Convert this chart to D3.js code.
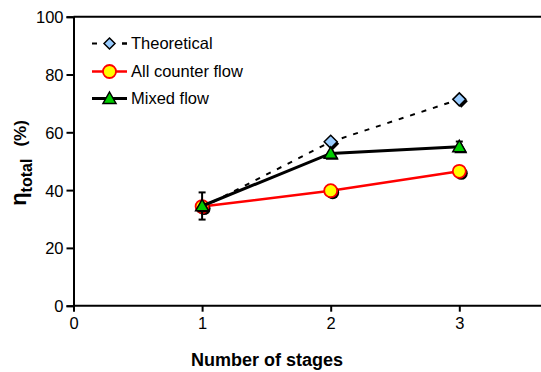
<!DOCTYPE html>
<html>
<head>
<meta charset="utf-8">
<script src="https://cdn.jsdelivr.net/npm/d3@7"></script>
<style>
  body { margin: 0; background: #fff; }
  svg { display: block; font-family: "Liberation Sans", Arial, sans-serif; }
</style>
</head>
<body>
<svg id="chart" width="541" height="372"></svg>
<script>
// --- data ---
const stages = [1, 2, 3];
const theoretical = [34.0, 56.7, 71.4];
const counterFlow = [34.3, 39.8, 46.5];
const mixedFlow = [34.5, 52.7, 55.0];
const mixedErr = [4.7, 0, 1.8];
const xTicks = [0, 1, 2, 3];
const yTicks = [0, 20, 40, 60, 80, 100];

const svg = d3.select("#chart");
const plotLeft = 73.5, plotTop = 16.7, plotBottom = 305.7;

const x = d3.scaleLinear([0, 3], [plotLeft, 459.3]);
const y = d3.scaleLinear([0, 100], [plotBottom, plotTop]);

// frame (left + top + bottom axes, plot is cropped on the right)
svg.append("line").attr("x1", plotLeft).attr("x2", 541).attr("y1", plotTop).attr("y2", plotTop)
  .attr("stroke", "#000").attr("stroke-width", 2);

const yAxis = svg.append("g").attr("transform", `translate(${plotLeft},0)`)
  .call(d3.axisLeft(y).tickValues(yTicks).tickSize(7).tickPadding(3));
const xAxis = svg.append("g").attr("transform", `translate(0,${plotBottom})`)
  .call(d3.axisBottom(x).tickValues(xTicks).tickFormat(d3.format("d")).tickSize(6).tickPadding(6));
xAxis.select(".domain").attr("d", `M${plotLeft},0H541`);

[yAxis, xAxis].forEach(g => {
  g.select(".domain").attr("stroke", "#000").attr("stroke-width", 2);
  g.selectAll(".tick line").attr("stroke", "#000").attr("stroke-width", 2);
  g.selectAll(".tick text").attr("fill", "#000").style("font-size", "16.5px")
    .style("font-family", "'Liberation Sans', Arial, sans-serif");
});
yAxis.selectAll(".tick text").attr("dy", "0.36em");

// axis titles
svg.append("text").attr("x", 267).attr("y", 366).attr("text-anchor", "middle")
  .style("font-size", "18px").style("font-weight", "bold").text("Number of stages");

const yl = svg.append("text").attr("transform", "translate(26,163) rotate(-90)")
  .attr("text-anchor", "middle").style("font-weight", "bold");
yl.append("tspan").style("font-size", "22px").text("η");
yl.append("tspan").attr("dy", 6).style("font-size", "16px").text("total");
yl.append("tspan").attr("dy", -6).attr("dx", 12).style("font-size", "17px").text("(%)");

const line = d3.line().x((d, i) => x(stages[i])).y(d => y(d));

// marker helpers
const diamond = (g, cx, cy, s) => {
  const p = `M${cx},${cy - s}L${cx + s},${cy}L${cx},${cy + s}L${cx - s},${cy}Z`;
  g.append("path").attr("d", p).attr("transform", "translate(2,2)").attr("fill", "#000");
  g.append("path").attr("d", p).attr("fill", "#99ccff").attr("stroke", "#000").attr("stroke-width", 1.5);
};
const circle = (g, cx, cy, r) => {
  g.append("circle").attr("cx", cx + 2).attr("cy", cy + 2).attr("r", r).attr("fill", "#000");
  g.append("circle").attr("cx", cx).attr("cy", cy).attr("r", r)
    .attr("fill", "#ffff00").attr("stroke", "#ff0000").attr("stroke-width", 1.8);
};
const triangle = (g, cx, cy, s) => {
  const p = `M${cx},${cy - s}L${cx + s},${cy + s * 0.75}L${cx - s},${cy + s * 0.75}Z`;
  g.append("path").attr("d", p).attr("transform", "translate(1.5,1.5)").attr("fill", "#000");
  g.append("path").attr("d", p).attr("fill", "#00cc00").attr("stroke", "#000").attr("stroke-width", 1.5);
};

// series: theoretical
const gT = svg.append("g");
gT.append("path").attr("d", line(theoretical)).attr("fill", "none")
  .attr("stroke", "#000").attr("stroke-width", 2).attr("stroke-dasharray", "5,7");

// series: all counter flow
const gC = svg.append("g");
gC.append("path").attr("d", line(counterFlow)).attr("fill", "none")
  .attr("stroke", "#ff0000").attr("stroke-width", 2.5);

// series: mixed flow
const gM = svg.append("g");
gM.append("path").attr("d", line(mixedFlow)).attr("fill", "none")
  .attr("stroke", "#000").attr("stroke-width", 3);

// markers
theoretical.forEach((v, i) => { if (i > 0) diamond(gT, x(stages[i]), y(v), 6.5); });
counterFlow.forEach((v, i) => circle(gC, x(stages[i]), y(v), 6.5));
mixedFlow.forEach((v, i) => {
  const e = mixedErr[i];
  if (e > 0) {
    const cx = x(stages[i]);
    gM.append("line").attr("x1", cx).attr("x2", cx).attr("y1", y(v + e)).attr("y2", y(v - e))
      .attr("stroke", "#000").attr("stroke-width", 2);
    [v + e, v - e].forEach(t => gM.append("line").attr("x1", cx - 3.5).attr("x2", cx + 3.5)
      .attr("y1", y(t)).attr("y2", y(t)).attr("stroke", "#000").attr("stroke-width", 2));
  }
  triangle(gM, x(stages[i]), y(v), 6.5);
});

// legend
const legend = svg.append("g");
const rows = [
  { name: "Theoretical", y: 43.5, kind: "t" },
  { name: "All counter flow", y: 71.5, kind: "c" },
  { name: "Mixed flow", y: 98.5, kind: "m" }
];
rows.forEach(r => {
  const g = legend.append("g");
  if (r.kind === "t") {
    g.append("line").attr("x1", 92).attr("x2", 127).attr("y1", r.y).attr("y2", r.y)
      .attr("stroke", "#000").attr("stroke-width", 2).attr("stroke-dasharray", "5,25");
    g.append("line").attr("x1", 122).attr("x2", 127).attr("y1", r.y).attr("y2", r.y)
      .attr("stroke", "#000").attr("stroke-width", 2);
    const s = 5.5, cx = 109.5, cy = r.y;
    g.append("path").attr("d", `M${cx},${cy - s}L${cx + s},${cy}L${cx},${cy + s}L${cx - s},${cy}Z`)
      .attr("fill", "#99ccff").attr("stroke", "#000").attr("stroke-width", 1.5);
  } else if (r.kind === "c") {
    g.append("line").attr("x1", 92).attr("x2", 127).attr("y1", r.y).attr("y2", r.y)
      .attr("stroke", "#ff0000").attr("stroke-width", 2.5);
    g.append("circle").attr("cx", 109.5).attr("cy", r.y).attr("r", 6.5)
      .attr("fill", "#ffff00").attr("stroke", "#ff0000").attr("stroke-width", 1.8);
  } else {
    g.append("line").attr("x1", 92).attr("x2", 127).attr("y1", r.y).attr("y2", r.y)
      .attr("stroke", "#000").attr("stroke-width", 3);
    const s = 6.5, cx = 109.5, cy = r.y;
    g.append("path").attr("d", `M${cx},${cy - s}L${cx + s},${cy + s * 0.75}L${cx - s},${cy + s * 0.75}Z`)
      .attr("fill", "#00cc00").attr("stroke", "#000").attr("stroke-width", 1.5);
  }
  g.append("text").attr("x", 131).attr("y", r.y).attr("dy", "0.36em")
    .style("font-size", "16.5px").text(r.name);
});
</script>
</body>
</html>
